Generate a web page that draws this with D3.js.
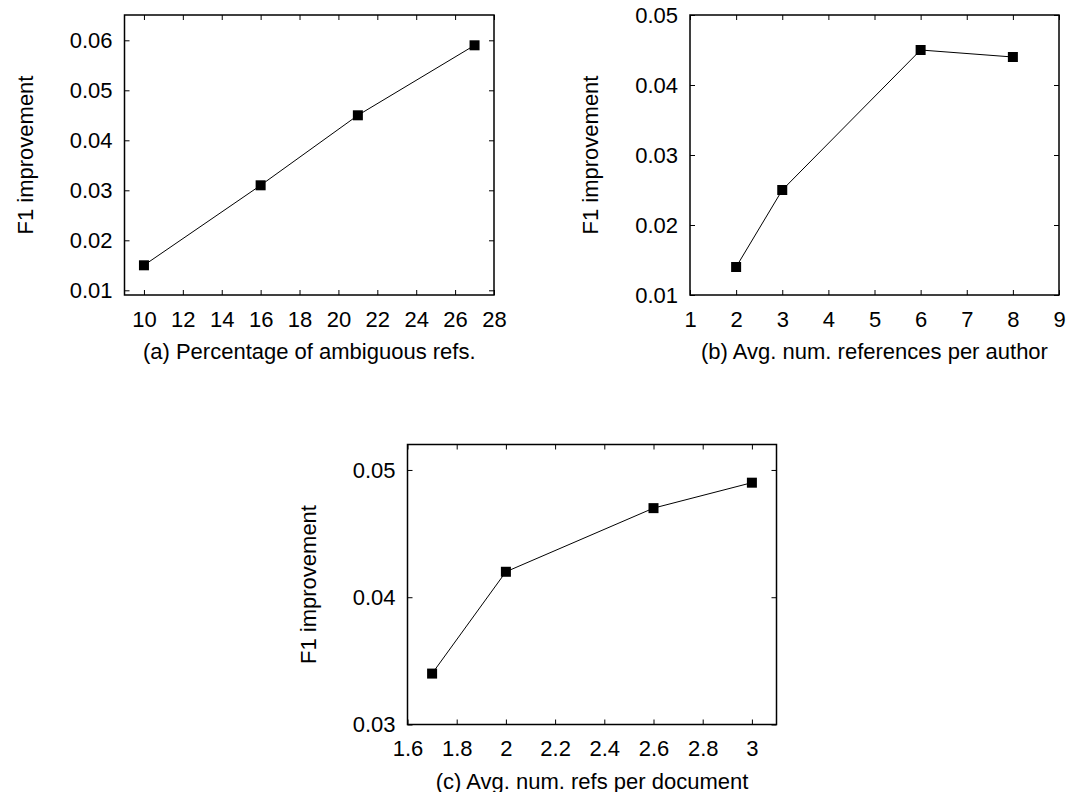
<!DOCTYPE html>
<meta charset="utf-8">
<style>
  body { margin: 0; background: #fff; }
  text { font-family: "Liberation Sans", Arial, Helvetica, sans-serif; fill: #000; }
  .frame { fill: none; stroke: #000; stroke-width: 1.5; }
  .line { fill: none; stroke: #000; stroke-width: 1; }
  .tick line { stroke: #000; stroke-width: 1; }
</style>
<body></body>
<script src="https://d3js.org/d3.v7.min.js"></script>
<script>

// data for each panel
var xA = [10, 16, 21, 27];
var yA = [0.015, 0.031, 0.045, 0.059];
var xTicksA = [10, 12, 14, 16, 18, 20, 22, 24, 26, 28];
var yTicksA = [0.01, 0.02, 0.03, 0.04, 0.05, 0.06];

var xB = [2, 3, 6, 8];
var yB = [0.014, 0.025, 0.045, 0.044];
var xTicksB = [1, 2, 3, 4, 5, 6, 7, 8, 9];
var yTicksB = [0.01, 0.02, 0.03, 0.04, 0.05];

var xC = [1.7, 2, 2.6, 3];
var yC = [0.034, 0.042, 0.047, 0.049];
var xTicksC = [1.6, 1.8, 2, 2.2, 2.4, 2.6, 2.8, 3];
var yTicksC = [0.03, 0.04, 0.05];

var yLabel = "F1 improvement";
var captions = ["(a) Percentage of ambiguous refs.",
                "(b) Avg. num. references per author",
                "(c) Avg. num. refs per document"];

var svg = d3.select("body").append("svg")
    .attr("width", 1071)
    .attr("height", 792);

var fontSize = 22;

function panel(opt) {
  var x = d3.scaleLinear().domain(opt.xDomain).range([opt.left, opt.right]);
  var y = d3.scaleLinear().domain(opt.yDomain).range([opt.bottom, opt.top]);
  var g = svg.append("g");

  var fmt = function(d) { return String(+d.toFixed(3)); };

  // bottom and left axes with labels, ticks pointing inwards
  g.append("g")
      .attr("transform", "translate(0," + opt.bottom + ")")
      .call(d3.axisBottom(x).tickValues(opt.xTicks).tickFormat(fmt)
        .tickSizeInner(-5).tickSizeOuter(0).tickPadding(16))
      .call(function(s) { s.select(".domain").remove(); });
  g.append("g")
      .attr("transform", "translate(" + opt.left + ",0)")
      .call(d3.axisLeft(y).tickValues(opt.yTicks).tickFormat(fmt)
        .tickSizeInner(-5).tickSizeOuter(0).tickPadding(12))
      .call(function(s) { s.select(".domain").remove(); });
  // mirrored ticks on top and right
  g.append("g")
      .attr("transform", "translate(0," + opt.top + ")")
      .call(d3.axisTop(x).tickValues(opt.xTicks).tickFormat("")
        .tickSizeInner(-5).tickSizeOuter(0))
      .call(function(s) { s.select(".domain").remove(); });
  g.append("g")
      .attr("transform", "translate(" + opt.right + ",0)")
      .call(d3.axisRight(y).tickValues(opt.yTicks).tickFormat("")
        .tickSizeInner(-5).tickSizeOuter(0))
      .call(function(s) { s.select(".domain").remove(); });

  g.selectAll(".tick text")
      .style("font-family", "'Liberation Sans', Arial, sans-serif")
      .style("font-size", fontSize + "px")
      .attr("fill", "#000");

  g.append("rect")
      .attr("class", "frame")
      .attr("x", opt.left).attr("y", opt.top)
      .attr("width", opt.right - opt.left)
      .attr("height", opt.bottom - opt.top);

  var pts = opt.xs.map(function(d, i) { return [d, opt.ys[i]]; });

  g.append("path")
      .datum(pts)
      .attr("class", "line")
      .attr("d", d3.line()
        .x(function(d) { return x(d[0]); })
        .y(function(d) { return y(d[1]); }));

  g.selectAll("rect.pt")
      .data(pts)
      .enter().append("rect")
      .attr("class", "pt")
      .attr("x", function(d) { return x(d[0]) - 5; })
      .attr("y", function(d) { return y(d[1]) - 5; })
      .attr("width", 10)
      .attr("height", 10)
      .attr("fill", "#000");

  // y title
  g.append("text")
      .attr("transform", "translate(" + (opt.left - 92) + "," + ((opt.top + opt.bottom) / 2) + ") rotate(-90)")
      .attr("text-anchor", "middle")
      .style("font-size", fontSize + "px")
      .text(yLabel);

  // caption under the panel
  g.append("text")
      .attr("x", (opt.left + opt.right) / 2)
      .attr("y", opt.bottom + 64)
      .attr("text-anchor", "middle")
      .style("font-size", fontSize + "px")
      .text(opt.caption);
}

panel({xs: xA, ys: yA, xTicks: xTicksA, yTicks: yTicksA,
       xDomain: [9, 28], yDomain: [0.00906, 0.06506],
       left: 124.5, right: 494, top: 15, bottom: 295, caption: captions[0]});

panel({xs: xB, ys: yB, xTicks: xTicksB, yTicks: yTicksB,
       xDomain: [1, 9], yDomain: [0.01, 0.05],
       left: 690, right: 1059, top: 15, bottom: 295, caption: captions[1]});

panel({xs: xC, ys: yC, xTicks: xTicksC, yTicks: yTicksC,
       xDomain: [1.6, 3.1], yDomain: [0.03, 0.052],
       left: 407.5, right: 776.5, top: 444.5, bottom: 724.5, caption: captions[2]});

</script>
